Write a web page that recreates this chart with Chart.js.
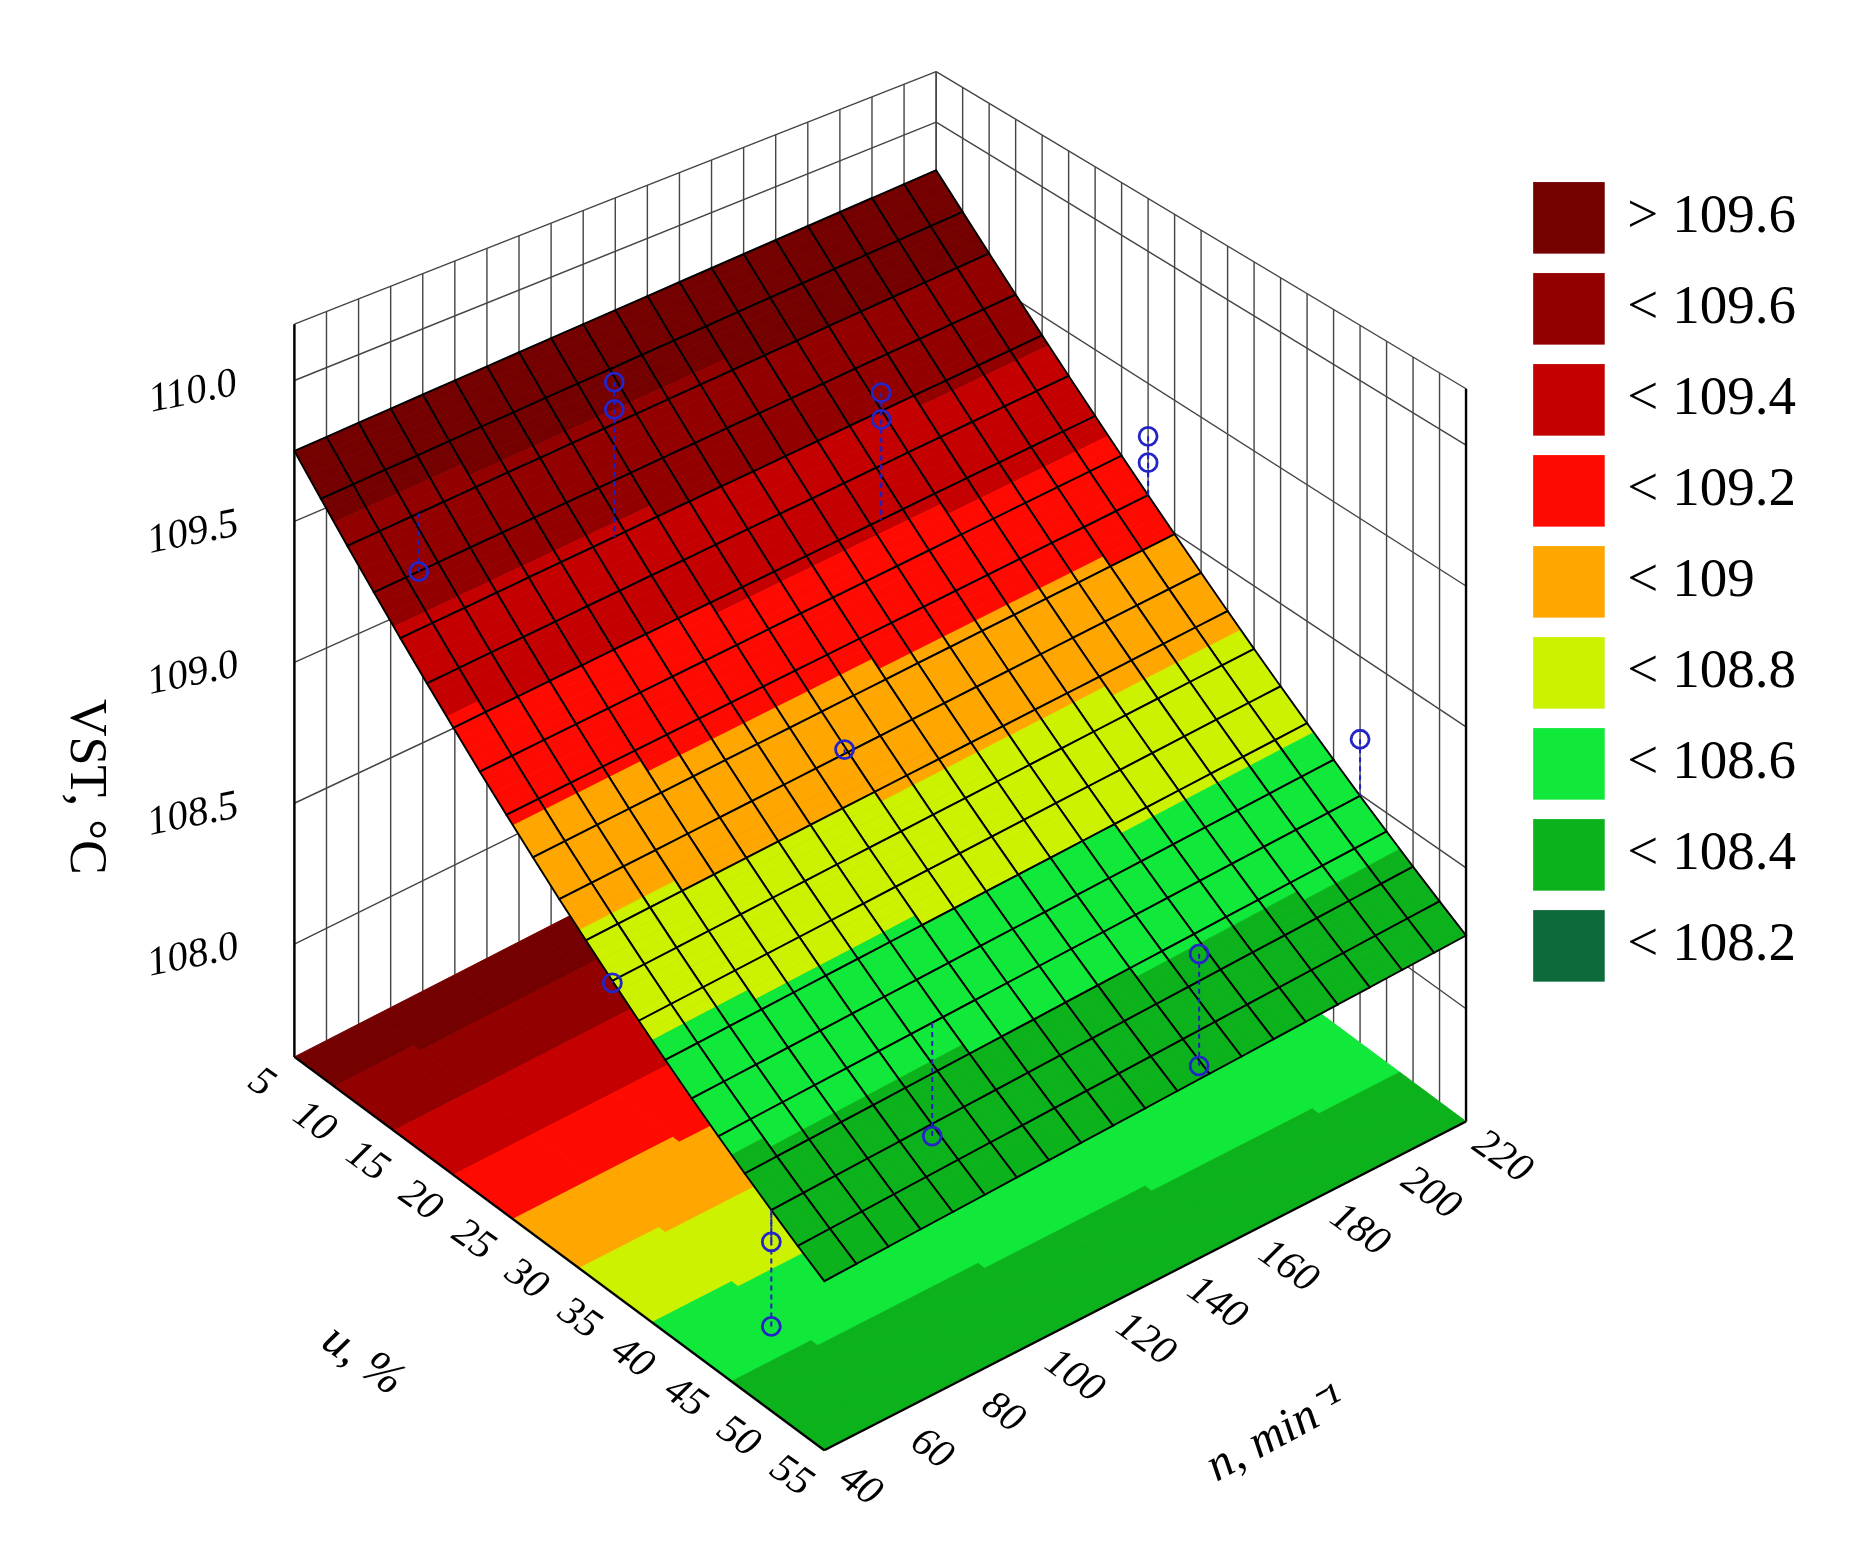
<!DOCTYPE html>
<html><head><meta charset="utf-8">
<script src="https://cdn.jsdelivr.net/npm/chart.js@4"></script>
<style>html,body{margin:0;background:#fff}#c{width:1857px;height:1556px}</style>
</head><body><div id="c"><canvas id="cv"></canvas></div>
<script>
// data
const uTicks = [5, 10, 15, 20, 25, 30, 35, 40, 45, 50, 55];
const nTicks = [40, 60, 80, 100, 120, 140, 160, 180, 200, 220];
const zTicks = [108.0, 108.5, 109.0, 109.5, 110.0];
const levels = [108.2, 108.4, 108.6, 108.8, 109.0, 109.2, 109.4, 109.6];
const levelColors = ['#0d6b3b', '#0cb21c', '#10e83a', '#ccf200', '#ffa600', '#ff0a00', '#c40000', '#920000', '#740000'];
const legendLabels = ['> 109.6', '< 109.6', '< 109.4', '< 109.2', '< 109', '< 108.8', '< 108.6', '< 108.4', '< 108.2'];
// fitted surface: VST = c0 + c1*t + c2*t^2 + c3*s  (t: u scaled 5..55, s: n scaled 40..220)
const surfCoef = [109.75, -2.02, 0.47, 0.06];
// observed points
const obsU = [15, 15, 10, 20, 20, 25, 25, 30, 35, 50, 50, 45, 50, 50, 45];
const obsN = [100, 100, 60, 160, 160, 220, 220, 120, 40, 40, 40, 100, 160, 160, 220];
const obsZ = [109.95, 109.85, 109.35, 109.7, 109.6, 109.3, 109.2, 108.9, 108.7, 108.2, 107.9, 108.05, 108.45, 108.05, 108.7];

const zFloor = 107.6, zTop = 110.2, N = 20, F = 1857 / 1557;
function surf(u, n) {
  const t = (u - 5) / 50, s = (n - 40) / 180;
  return surfCoef[0] + surfCoef[1]*t + surfCoef[2]*t*t + surfCoef[3]*s;
}
function proj(u, n, z) {
  const t = (u - 5) / 50, s = (n - 40) / 180;
  const k = 240 - 25 * s * (1 - t);
  return {x: 240 + 450*t + 545*s, y: 890 + 335*t - 280*s - k*(z - zFloor)};
}
function colorOf(z) {
  let i = 0;
  while (i < levels.length && z >= levels[i]) i++;
  return levelColors[i];
}

const pts = obsU.map((u, i) => proj(u, obsN[i], obsZ[i]));
const stems = obsU.map((u, i) => ({
  type: 'line', data: [proj(u, obsN[i], obsZ[i]), proj(u, obsN[i], surf(u, obsN[i]))],
  borderColor: '#2020c0', borderWidth: 2, borderDash: [5, 4], pointRadius: 0, order: 2
}));

const surfacePlugin = {
  id: 'surface',
  beforeDatasetsDraw(chart) {
    const c = chart.ctx, X = chart.scales.x, Y = chart.scales.y;
    const P = (u, n, z) => { const p = proj(u, n, z); return [X.getPixelForValue(p.x), Y.getPixelForValue(p.y)]; };
    const poly = (arr, fill, stroke, lw) => {
      c.beginPath(); arr.forEach((p, i) => i ? c.lineTo(p[0], p[1]) : c.moveTo(p[0], p[1])); c.closePath();
      if (fill) { c.fillStyle = fill; c.fill(); }
      if (stroke) { c.strokeStyle = stroke; c.lineWidth = lw; c.stroke(); }
    };
    const line = (a, b, col, lw) => { c.beginPath(); c.moveTo(a[0], a[1]); c.lineTo(b[0], b[1]); c.strokeStyle = col; c.lineWidth = lw; c.stroke(); };
    c.save();
    // walls
    for (let i = 0; i <= N; i++) {
      const n = 40 + 180 * i / N, u = 5 + 50 * i / N;
      line(P(5, n, zFloor), P(5, n, zTop), '#444', 1.4);
      line(P(u, 220, zFloor), P(u, 220, zTop), '#444', 1.4);
    }
    zTicks.concat([zTop]).forEach(z => {
      line(P(5, 40, z), P(5, 220, z), '#444', 1.4);
      line(P(5, 220, z), P(55, 220, z), '#444', 1.4);
    });
    line(P(5, 40, zFloor), P(5, 40, zTop), '#000', 2.4);
    line(P(55, 220, zFloor), P(55, 220, zTop), '#000', 2.4);
    // floor contour bands
    const M = 80;
    for (let i = 0; i < M; i++) {
      const u0 = 5 + 50*i/M, u1 = 5 + 50*(i+1)/M;
      for (let j = 0; j < 8; j++) {
        const n0 = 40 + 180*j/8, n1 = 40 + 180*(j+1)/8;
        const col = colorOf(surf((u0+u1)/2, (n0+n1)/2));
        poly([P(u0,n0,zFloor), P(u1,n0,zFloor), P(u1,n1,zFloor), P(u0,n1,zFloor)], col, col, 1);
      }
    }
    line(P(5, 40, zFloor), P(55, 40, zFloor), '#000', 2.4);
    line(P(55, 40, zFloor), P(55, 220, zFloor), '#000', 2.4);
    // surface cells, back to front
    const cells = [];
    for (let i = 0; i < N; i++) for (let j = 0; j < N; j++) cells.push([i, j, (N - i) + j]);
    cells.sort((a, b) => b[2] - a[2]);
    const S = 4;
    cells.forEach(([i, j]) => {
      const u0 = 5 + 50*i/N, u1 = 5 + 50*(i+1)/N, n0 = 40 + 180*j/N, n1 = 40 + 180*(j+1)/N;
      for (let a = 0; a < S; a++) {
        const ua = u0 + (u1-u0)*a/S, ub = u0 + (u1-u0)*(a+1)/S;
        const col = colorOf(surf((ua+ub)/2, (n0+n1)/2));
        poly([P(ua,n0,surf(ua,n0)), P(ub,n0,surf(ub,n0)), P(ub,n1,surf(ub,n1)), P(ua,n1,surf(ua,n1))], col, col, 0.8);
      }
      poly([P(u0,n0,surf(u0,n0)), P(u1,n0,surf(u1,n0)), P(u1,n1,surf(u1,n1)), P(u0,n1,surf(u0,n1))], null, '#000', 1.9);
    });
    // tick labels
    c.fillStyle = '#000';
    c.font = 'italic ' + Math.round(34*F) + 'px "Liberation Serif"';
    c.textAlign = 'center'; c.textBaseline = 'middle';
    const txt = (s, x, y, rot) => { c.save(); c.translate(x, y); c.rotate(rot); c.fillText(s, 0, 0); c.restore(); };
    uTicks.forEach(u => { const p = P(u, 40, zFloor); txt(String(u), p[0] - 28*F, p[1] + 22*F, 0.62); });
    nTicks.forEach(n => { const p = P(55, n, zFloor); txt(String(n), p[0] + 30*F, p[1] + 30*F, 0.62); });
    zTicks.forEach(z => { const p = P(5, 40, z); txt(z.toFixed(1), p[0] - 85*F, p[1] + 10*F, -0.2); });
    c.font = 'italic ' + Math.round(40*F) + 'px "Liberation Serif"';
    const pu = P(30, 40, zFloor); txt('u, %', pu[0] - 165*F, pu[1] + 90*F, 0.62);
    const pn = P(55, 130, zFloor); txt('n, min⁻¹', pn[0] + 110*F, pn[1] + 125*F, -0.5);
    c.font = Math.round(44*F) + 'px "Liberation Serif"';
    txt('VST, °C', X.getPixelForValue(62), Y.getPixelForValue(660), Math.PI / 2);
    // legend
    legendLabels.forEach((s, i) => {
      const y = 145 + i * 77.5;
      c.fillStyle = levelColors[levelColors.length - 1 - i];
      c.fillRect(X.getPixelForValue(1292), Y.getPixelForValue(y), 60*F, 60*F);
      c.fillStyle = '#000'; c.textAlign = 'left'; c.font = Math.round(46*F) + 'px "Liberation Serif"';
      c.fillText(s, X.getPixelForValue(1372), Y.getPixelForValue(y + 30));
    });
    c.restore();
  }
};

new Chart(document.getElementById('cv'), {
  type: 'scatter',
  data: {
    datasets: [{
      data: pts, pointRadius: 9, pointBorderWidth: 2.8, pointBorderColor: '#2424c8',
      pointBackgroundColor: 'rgba(0,0,0,0)', order: 1
    }].concat(stems)
  },
  options: {
    responsive: true, maintainAspectRatio: false, animation: false,
    layout: {padding: 0},
    plugins: {legend: {display: false}, tooltip: {enabled: false}},
    scales: {
      x: {type: 'linear', min: 0, max: 1557, display: false},
      y: {type: 'linear', min: 0, max: 1305, reverse: true, display: false}
    }
  },
  plugins: [surfacePlugin]
});
</script>
</body></html>
